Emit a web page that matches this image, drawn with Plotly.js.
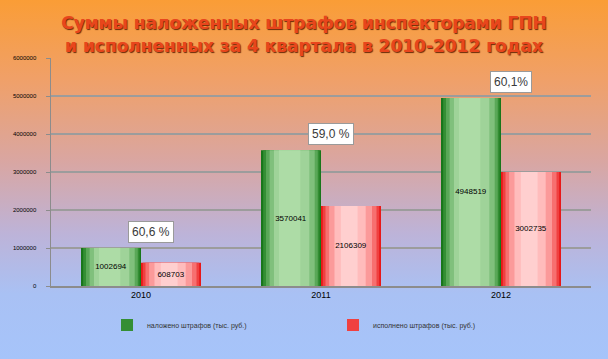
<!DOCTYPE html>
<html>
<head>
<meta charset="utf-8">
<script src="https://cdn.plot.ly/plotly-3.0.1.min.js"></script>
<style>
html,body{margin:0;padding:0;}
body{width:608px;height:359px;overflow:hidden;
background:linear-gradient(to bottom,#fa9d36 0%,#f0a068 22%,#d9a6a2 45%,#bdb3d8 65%,#a9c1f4 82%,#a6c4fa 100%);}
#chart{width:608px;height:359px;}
</style>
</head>
<body>
<div id="chart"></div>
<script>
// ---- data ----
var years = ['2010', '2011', '2012'];
var imposed = [1002694, 3570041, 4948519];
var executed = [608703, 2106309, 3002735];
var percentLabels = ['60,6 %', '59,0 %', '60,1%'];
var seriesNames = ['наложено штрафов (тыс. руб.)', 'исполнено штрафов (тыс. руб.)'];
var yTicks = [0, 1000000, 2000000, 3000000, 4000000, 5000000, 6000000];

var idx = years.map(function(_, i){ return i; });

// ---- styling for pseudo-gradient bars ----
var W = 1/3;
var greenLayers = [
  {l:0.000, r:0.000, c:'#18761a'},
  {l:0.012, r:0.008, c:'#348e34', legend:true},
  {l:0.028, r:0.018, c:'#5aa858'},
  {l:0.048, r:0.035, c:'#80c07c'},
  {l:0.072, r:0.065, c:'#9fd399'},
  {l:0.100, r:0.115, c:'#addca6'}
];
var redLayers = [
  {l:0.000, r:0.000, c:'#e81818'},
  {l:0.010, r:0.010, c:'#f04040', legend:true},
  {l:0.025, r:0.025, c:'#f77070'},
  {l:0.045, r:0.050, c:'#fb9a9a'},
  {l:0.075, r:0.085, c:'#ffbcbc'},
  {l:0.110, r:0.130, c:'#ffcfcf'}
];

var traces = [];
function addLayers(vals, layers, baseOffset, name) {
  layers.forEach(function(L){
    traces.push({
      type:'bar', x:idx, y:vals,
      offset: baseOffset + L.l, width: W - L.l - L.r,
      marker:{color:L.c, line:{width:0}},
      name:name, showlegend: !!L.legend, hoverinfo:'skip'
    });
  });
  traces.push({
    type:'bar', x:idx, y:vals, offset:baseOffset, width:W,
    marker:{color:'rgba(0,0,0,0)', line:{width:0}},
    text: vals.map(function(v){return String(v);}),
    textposition:'inside', insidetextanchor:'middle',
    constraintext:'none',
    textfont:{family:'Liberation Sans, Arial, sans-serif', size:8, color:'#000'},
    showlegend:false, hoverinfo:'skip'
  });
}
addLayers(imposed, greenLayers, -W, seriesNames[0]);
addLayers(executed, redLayers, 0, seriesNames[1]);

var annotations = idx.map(function(i){
  return {
    x:i, y:imposed[i], xref:'x', yref:'y',
    text:percentLabels[i], showarrow:false,
    xshift:10, yshift:5, yanchor:'bottom',
    bgcolor:'#ffffff', bordercolor:'#9a9a9a', borderwidth:1, borderpad:3,
    font:{family:'Liberation Sans, Arial, sans-serif', size:12, color:'#3a3a3a'}
  };
});

var layout = {
  width:608, height:359,
  paper_bgcolor:'rgba(0,0,0,0)', plot_bgcolor:'rgba(0,0,0,0)',
  margin:{l:51, r:17, t:58, b:73},
  barmode:'overlay',
  title:{
    text:'Суммы наложенных штрафов инспекторами ГПН<br>и исполненных за 4 квартала в 2010-2012 годах',
    x:0.5, xanchor:'center', yref:'container', y:0.918, yanchor:'middle',
    font:{family:'DejaVu Sans, sans-serif', size:17, weight:'bold', color:'#e8461c',
          shadow:'1px 1px 1px #6a2a08'}
  },
  xaxis:{
    range:[-0.5, 2.5], tickvals:idx, ticktext:years,
    showgrid:false, showline:true, linecolor:'#8c8c8c', linewidth:1.5,
    ticks:'', tickfont:{family:'Liberation Sans, Arial, sans-serif', size:9, color:'#000'},
    zeroline:false, fixedrange:true, automargin:false
  },
  yaxis:{
    range:[0, 6000000], tickvals:yTicks, ticktext:yTicks.map(String),
    showgrid:true, gridcolor:'#9c9c9c', gridwidth:1.5,
    showline:true, linecolor:'#8c8c8c', linewidth:1.5,
    ticks:'outside', ticklen:4, tickcolor:'#8c8c8c', ticklabelstandoff:8,
    tickfont:{family:'Liberation Sans, Arial, sans-serif', size:6, color:'#000'},
    zeroline:false, fixedrange:true, automargin:false
  },
  legend:{
    orientation:'h', xref:'container', yref:'container',
    x:0.176, xanchor:'left', y:0.095, yanchor:'middle',
    entrywidth:181, font:{family:'Liberation Sans, Arial, sans-serif', size:7, color:'#333'},
    bgcolor:'rgba(0,0,0,0)'
  },
  annotations:annotations,
  showlegend:true
};

Plotly.newPlot('chart', traces, layout, {displayModeBar:false, staticPlot:true});
</script>
</body>
</html>
